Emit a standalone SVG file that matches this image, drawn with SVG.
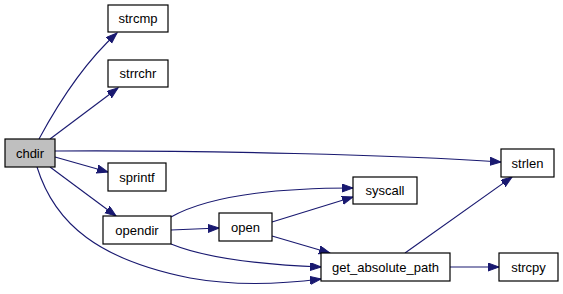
<svg xmlns="http://www.w3.org/2000/svg" width="563" height="294" viewBox="0 0 563 294">
  <style>
    .node rect { fill: #ffffff; stroke: #000000; stroke-width: 1.2; }
    .node.root rect { fill: #bfbfbf; }
    .node text { font-family: "Liberation Sans", Arial, sans-serif; font-size: 13px; fill: #000000; text-anchor: middle; }
    .edges path { fill: none; stroke: #191970; stroke-width: 1.1; marker-end: url(#arrow); }
  </style>
  <defs>
    <marker id="arrow" markerUnits="userSpaceOnUse" markerWidth="12" markerHeight="10" refX="11" refY="4" orient="auto">
      <path d="M0,0 L11,4 L0,8 Z" fill="#191970" stroke="#191970" stroke-width="1"/>
    </marker>
  </defs>
  <rect width="563" height="294" fill="#ffffff"/>

  <g class="edges">
    <path d="M39,139 C60,100 85,62 117,33"/>
    <path d="M50,139 L118,88"/>
    <path d="M55,151 C200,150 400,155 501,162"/>
    <path d="M55,157 L108,172"/>
    <path d="M50,167 L116,216"/>
    <path d="M37,167 C55,225 100,260 190,278 C240,287 290,283 321,279"/>
    <path d="M171,217 C210,195 280,188 353,188"/>
    <path d="M171,230 L219,228"/>
    <path d="M171,244 C210,260 270,265 321,267"/>
    <path d="M272,222 L353,197"/>
    <path d="M272,236 L330,253"/>
    <path d="M405,253 L512,177"/>
    <path d="M450,267 L499,267"/>
  </g>

  <g id="chdir" class="node root">
    <rect x="5" y="139" width="50" height="28"/>
    <text x="30" y="157.5">chdir</text>
  </g>
  <g id="strcmp" class="node">
    <rect x="108" y="5" width="60" height="27"/>
    <text x="138" y="23">strcmp</text>
  </g>
  <g id="strrchr" class="node">
    <rect x="108" y="60" width="60" height="27"/>
    <text x="138" y="78">strrchr</text>
  </g>
  <g id="strlen" class="node">
    <rect x="501" y="149" width="53" height="28"/>
    <text x="527.5" y="167.5">strlen</text>
  </g>
  <g id="sprintf" class="node">
    <rect x="108" y="163" width="58" height="28"/>
    <text x="137" y="181.5">sprintf</text>
  </g>
  <g id="syscall" class="node">
    <rect x="353" y="177" width="64" height="27"/>
    <text x="385" y="195">syscall</text>
  </g>
  <g id="opendir" class="node">
    <rect x="103" y="216" width="68" height="28"/>
    <text x="137" y="234.5">opendir</text>
  </g>
  <g id="open" class="node">
    <rect x="219" y="213" width="53" height="28"/>
    <text x="245.5" y="231.5">open</text>
  </g>
  <g id="get_absolute_path" class="node">
    <rect x="321" y="253" width="129" height="28"/>
    <text x="385.5" y="271.5">get_absolute_path</text>
  </g>
  <g id="strcpy" class="node">
    <rect x="499" y="253" width="59" height="28"/>
    <text x="528.5" y="271.5">strcpy</text>
  </g>
</svg>
